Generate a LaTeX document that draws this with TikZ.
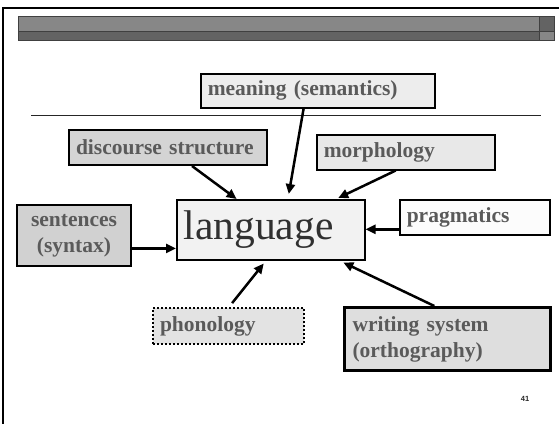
\documentclass[tikz,border=0pt]{standalone}
\usepackage{fontspec}
\setmainfont{Liberation Serif}
\newfontfamily\numfont{Liberation Sans}
\usetikzlibrary{arrows.meta,calc}

\definecolor{barlight}{HTML}{878787}
\definecolor{bardark}{HTML}{636363}
\definecolor{lblgray}{HTML}{5A5A5A}
\definecolor{langtext}{HTML}{303030}

\tikzset{
  topic/.style={draw=black, line width=1.5pt, anchor=north west,
    font=\bfseries\fontsize{21.5}{26}\selectfont, text=lblgray,
    inner xsep=7pt, inner ysep=0pt, align=left},
  feed/.style={line width=2.5pt, -{Triangle[length=10pt,width=9pt]}},
  barseg/.style={draw=black!75, line width=0.8pt},
}

\begin{document}
\begin{tikzpicture}[x=1pt,y=-1pt]
\useasboundingbox (0,0) rectangle (559,424);

% slide frame
\draw[line width=2pt] (559,8) -- (3,8) -- (3,424);

% title bar
\draw[barseg, fill=barlight] (18,16) rectangle (539,31);
\draw[barseg, fill=bardark] (18,31) rectangle (539,40);
\draw[barseg, fill=bardark] (539,16) rectangle (554,31);
\draw[barseg, fill=barlight] (539,31) rectangle (554,40);

% rule under the top label
\draw[line width=0.9pt, black!85] (31,115) -- (541,115);

% topic boxes
\node[topic, fill=black!7, minimum width=234pt, minimum height=34pt, text width=220pt]
  (mean) at (200,73) {meaning (semantics)};
\node[topic, line width=2pt, fill=black!17, minimum width=198pt, minimum height=35pt, text width=184pt]
  (disc) at (68,129) {discourse structure};
\node[topic, fill=black!9, minimum width=178pt, minimum height=35pt, text width=164pt]
  (morph) at (316,134) {morphology};
\node[topic, fill=black!1, minimum width=150pt, minimum height=35pt, text width=136pt]
  (prag) at (399,199) {pragmatics};
\node[topic, line width=2pt, fill=black!18, minimum width=114pt, minimum height=61pt, text width=100pt, align=center]
  (sent) at (16,204) {sentences\\(syntax)};
\node[topic, line width=2pt, dotted, fill=black!11, minimum width=151pt, minimum height=36pt, text width=137pt]
  (phon) at (152,307) {phonology};
\node[topic, line width=3pt, fill=black!13, minimum width=206pt, minimum height=63pt, text width=190pt, inner xsep=8pt]
  (writ) at (343,306) {writing system\\(orthography)};

% central box
\node[draw=black, line width=1.5pt, fill=black!5, anchor=north west,
  minimum width=188pt, minimum height=60pt, text width=174pt, inner xsep=7pt, inner ysep=0pt,
  font=\fontsize{41.5}{44}\selectfont, text=langtext, align=left]
  (lang) at (176,199) {language};

% connectors into the central box
\draw[feed] ($(disc.south west)!0.62!(disc.south east)$) -- ($(lang.north west)!0.32!(lang.north east)$);
\draw[feed] ($(mean.south west)!0.44!(mean.south east)$) -- ($(lang.north west)!0.595!(lang.north east)+(0,-5)$);
\draw[feed] ($(morph.south west)!0.444!(morph.south east)$) -- ($(lang.north west)!0.856!(lang.north east)+(0,-1)$);
\draw[feed] ($(prag.north west)!0.83!(prag.south west)$) coordinate (pragout) -- (lang.east |- pragout);
\draw[feed] ($(sent.north east)!0.705!(sent.south east)$) coordinate (sentout) -- (lang.west |- sentout);
\draw[feed, shorten <=5pt] ($(phon.north west)!0.503!(phon.north east)$) -- ($(lang.south west)!0.463!(lang.south east)+(0,3)$);
\draw[feed] ($(writ.north west)!0.437!(writ.north east)$) -- ($(lang.south west)!0.883!(lang.south east)+(0,2)$);

% slide number
\node[font=\numfont\bfseries\fontsize{7.5}{9}\selectfont, text=black!85] (pagenum) at (525,399) {41};
\end{tikzpicture}
\end{document}
